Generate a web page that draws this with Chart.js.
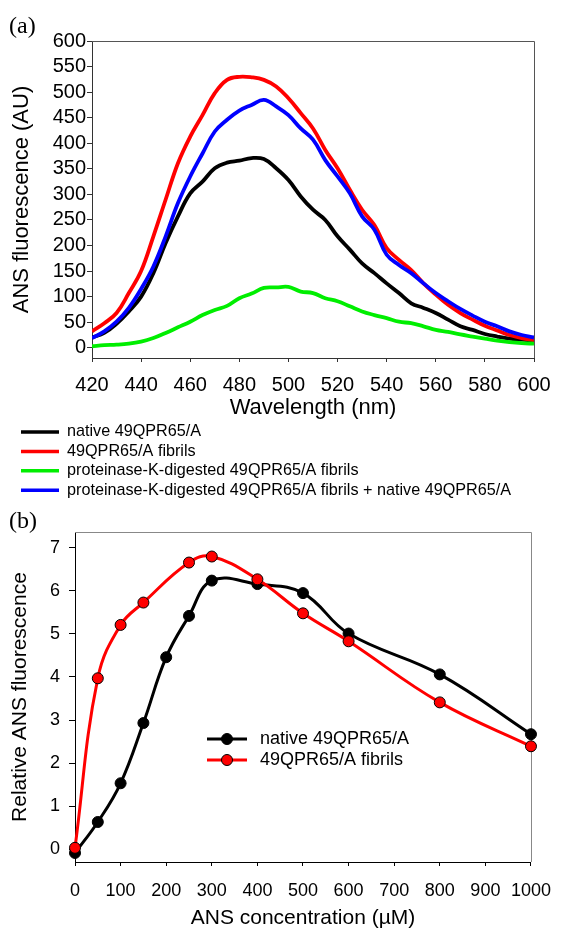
<!DOCTYPE html>
<html><head><meta charset="utf-8">
<script src="https://cdn.jsdelivr.net/npm/chart.js@4.4.1/dist/chart.umd.min.js"></script>
<style>
html,body{margin:0;padding:0;background:#fff;}
#wrap{position:relative;width:565px;height:929px;overflow:hidden;background:#fff;}
canvas{position:absolute;left:0;}
#ca{top:0;} #cb{top:505px;}
.panel{position:absolute;font-family:"Liberation Serif","Times New Roman",serif;font-size:24px;line-height:1;color:#000;}
</style></head><body>
<div id="wrap">
<canvas id="ca" width="565" height="505"></canvas>
<canvas id="cb" width="565" height="424"></canvas>
<div class="panel" style="left:9px;top:13px">(a)</div>
<div class="panel" style="left:9px;top:508px">(b)</div>
</div>
<script>
// ---------- Panel (a) data ----------
const wavelengths = [420,425,430,435,440,445,450,455,460,465,470,475,480,485,490,495,500,505,510,515,520,525,530,535,540,545,550,555,560,565,570,575,580,585,590,595,600];
const nativeSpec  = [20,29,47,71,100,146,205,257,302,325,351,362,366,371,369,351,328,296,270,250,218,192,165,146,126,107,87,78,68,55,42,35,27,22,18,16,14];
const fibrilSpec  = [32,48,68,107,150,218,290,361,413,455,498,524,530,529,524,511,488,459,429,387,351,309,270,240,195,172,152,126,104,84,68,55,43,34,25,19,15];
const pkSpec      = [3,5,6,8,12,19,29,40,51,64,74,82,97,106,117,118,119,110,107,97,91,81,71,64,58,51,48,42,35,31,26,22,18,14,11,9,8];
const pkNatSpec   = [19,32,51,78,115,159,218,283,335,380,423,446,464,475,485,472,455,429,407,367,335,302,257,231,182,162,146,126,107,91,76,63,51,42,32,25,20];
const labelsA = ["native 49QPR65/A","49QPR65/A fibrils","proteinase-K-digested 49QPR65/A fibrils","proteinase-K-digested 49QPR65/A fibrils + native 49QPR65/A"];
const xTicksA = [420,440,460,480,500,520,540,560,580,600];
const yTicksA = [0,50,100,150,200,250,300,350,400,450,500,550,600];

// ---------- Panel (b) data ----------
const concNative = [0,50,100,150,200,250,300,400,500,600,800,1000];
const relNative  = [-0.09,0.63,1.53,2.93,4.46,5.42,6.24,6.16,5.95,5.01,4.06,2.67];
const concFibril = [0,50,100,150,250,300,400,500,600,800,1000];
const relFibril  = [0.03,3.97,5.21,5.73,6.66,6.80,6.27,5.48,4.83,3.41,2.39];
const labelsB = ["native 49QPR65/A","49QPR65/A fibrils"];
const xTicksB = [0,100,200,300,400,500,600,700,800,900,1000];
const yTicksB = [0,1,2,3,4,5,6,7];

const FONT = "'Liberation Sans', Arial, sans-serif";
const pts = (xs, ys) => xs.map((x, i) => ({x, y: ys[i]}));

const framePlugin = {
  id: 'frame',
  beforeDatasetsDraw(chart, args, o) {
    const {ctx, chartArea: a} = chart;
    ctx.save();
    ctx.strokeStyle = o.color; ctx.lineWidth = o.width;
    ctx.beginPath();
    ctx.moveTo(Math.round(a.left), Math.round(a.top) + 0.5);
    ctx.lineTo(Math.round(a.right) + 0.5, Math.round(a.top) + 0.5);
    ctx.lineTo(Math.round(a.right) + 0.5, Math.round(a.bottom));
    ctx.stroke();
    ctx.restore();
  }
};

const legendPlugin = {
  id: 'lineLegend',
  afterDraw(chart, args, o) {
    const ctx = chart.ctx;
    ctx.save();
    ctx.font = o.font; ctx.textBaseline = 'middle'; ctx.textAlign = 'left';
    chart.data.datasets.forEach((ds, k) => {
      const y = o.y + k * o.rowH;
      ctx.strokeStyle = ds.borderColor; ctx.lineWidth = o.lineWidth;
      ctx.beginPath(); ctx.moveTo(o.x, y); ctx.lineTo(o.x + o.lineLen, y); ctx.stroke();
      if (ds.pointRadius > 0) {
        ctx.beginPath(); ctx.arc(o.x + o.lineLen / 2, y, ds.pointRadius, 0, Math.PI * 2);
        ctx.fillStyle = ds.pointBackgroundColor; ctx.fill();
        ctx.lineWidth = ds.pointBorderWidth; ctx.strokeStyle = ds.pointBorderColor; ctx.stroke();
      }
      ctx.fillStyle = '#000';
      ctx.fillText(ds.label, o.x + o.lineLen + o.gap, y);
    });
    ctx.restore();
  }
};

const specDs = (label, data, color, order) => ({
  label, data: pts(wavelengths, data), borderColor: color, backgroundColor: color,
  borderWidth: 3.8, pointRadius: 0, tension: 0.4, order, fill: false
});

new Chart(document.getElementById('ca'), {
  type: 'line',
  data: { datasets: [
    specDs(labelsA[0], nativeSpec, '#000000', 3),
    specDs(labelsA[1], fibrilSpec, '#ff0000', 2),
    specDs(labelsA[2], pkSpec, '#00ee00', 1),
    specDs(labelsA[3], pkNatSpec, '#0000ff', 0)
  ]},
  options: {
    responsive: false, animation: false, events: [],
    layout: { padding: { left: 0, right: 31, top: 41, bottom: 86 } },
    plugins: {
      legend: { display: false }, tooltip: { enabled: false },
      frame: { color: '#555', width: 1 },
      lineLegend: { x: 21, y: 432, rowH: 19.4, lineLen: 38, gap: 8, lineWidth: 3.5, font: "16.2px " + FONT }
    },
    scales: {
      x: {
        type: 'linear', min: 420, max: 600,
        afterBuildTicks: s => { s.ticks = xTicksA.map(v => ({value: v})); },
        afterFit: s => { s.height = 61; },
        border: { display: true, color: '#333', width: 1 },
        grid: { drawOnChartArea: false, drawTicks: true, tickLength: 4, tickColor: '#333' },
        ticks: { color: '#000', font: { family: FONT, size: 20 }, padding: 11, maxRotation: 0, autoSkip: false, callback: v => String(v) },
        title: { display: true, text: 'Wavelength (nm)', color: '#000', font: { family: FONT, size: 22, lineHeight: 1 }, padding: 0 }
      },
      y: {
        min: -20, max: 600,
        afterBuildTicks: s => { s.ticks = yTicksA.map(v => ({value: v})); },
        afterFit: s => { s.width = 92; },
        border: { display: true, color: '#333', width: 1 },
        grid: { drawOnChartArea: false, drawTicks: true, tickLength: 5, tickColor: '#333' },
        ticks: { color: '#000', font: { family: FONT, size: 20 }, padding: 1, autoSkip: false, callback: v => String(v) },
        title: { display: true, text: 'ANS fluorescence (AU)', color: '#000', font: { family: FONT, size: 22, lineHeight: 1 }, padding: { top: 11, bottom: 0 } }
      }
    }
  },
  plugins: [framePlugin, legendPlugin]
});

const concDs = (label, xs, ys, color, order) => ({
  label, data: pts(xs, ys), borderColor: color, backgroundColor: color,
  borderWidth: 3, tension: 0.4, order, fill: false, clip: false,
  pointRadius: 5.5, pointBackgroundColor: color, pointBorderColor: '#000', pointBorderWidth: 1
});

new Chart(document.getElementById('cb'), {
  type: 'line',
  data: { datasets: [
    concDs(labelsB[0], concNative, relNative, '#000000', 1),
    concDs(labelsB[1], concFibril, relFibril, '#ff0000', 0)
  ]},
  options: {
    responsive: false, animation: false, events: [],
    layout: { padding: { left: 0, right: 26, top: 27, bottom: 0 } },
    plugins: {
      legend: { display: false }, tooltip: { enabled: false },
      frame: { color: '#888', width: 1 },
      lineLegend: { x: 207, y: 234, rowH: 21, lineLen: 40, gap: 13, lineWidth: 3, font: "18px " + FONT }
    },
    scales: {
      x: {
        type: 'linear', min: 0, max: 1000,
        afterBuildTicks: s => { s.ticks = xTicksB.map(v => ({value: v})); },
        afterFit: s => { s.height = 67; },
        border: { display: true, color: '#000', width: 1 },
        grid: { drawOnChartArea: false, drawTicks: true, tickLength: 4, tickColor: '#000' },
        ticks: { color: '#000', font: { family: FONT, size: 18 }, padding: 14, maxRotation: 0, autoSkip: false, callback: v => String(v) },
        title: { display: true, text: 'ANS concentration (\u00B5M)', color: '#000', font: { family: FONT, size: 21, lineHeight: 1 }, padding: 0 }
      },
      y: {
        min: -0.3, max: 7.37,
        afterBuildTicks: s => { s.ticks = yTicksB.map(v => ({value: v})); },
        afterFit: s => { s.width = 75; },
        border: { display: true, color: '#000', width: 1 },
        grid: { drawOnChartArea: false, drawTicks: true, tickLength: 6, tickColor: '#000' },
        ticks: { color: '#000', font: { family: FONT, size: 18 }, padding: 9, autoSkip: false, callback: v => String(v) },
        title: { display: true, text: 'Relative ANS fluorescence', color: '#000', font: { family: FONT, size: 21, lineHeight: 1 }, padding: { top: 9.5, bottom: 0 } }
      }
    }
  },
  plugins: [framePlugin, legendPlugin]
});
</script>
</body></html>
